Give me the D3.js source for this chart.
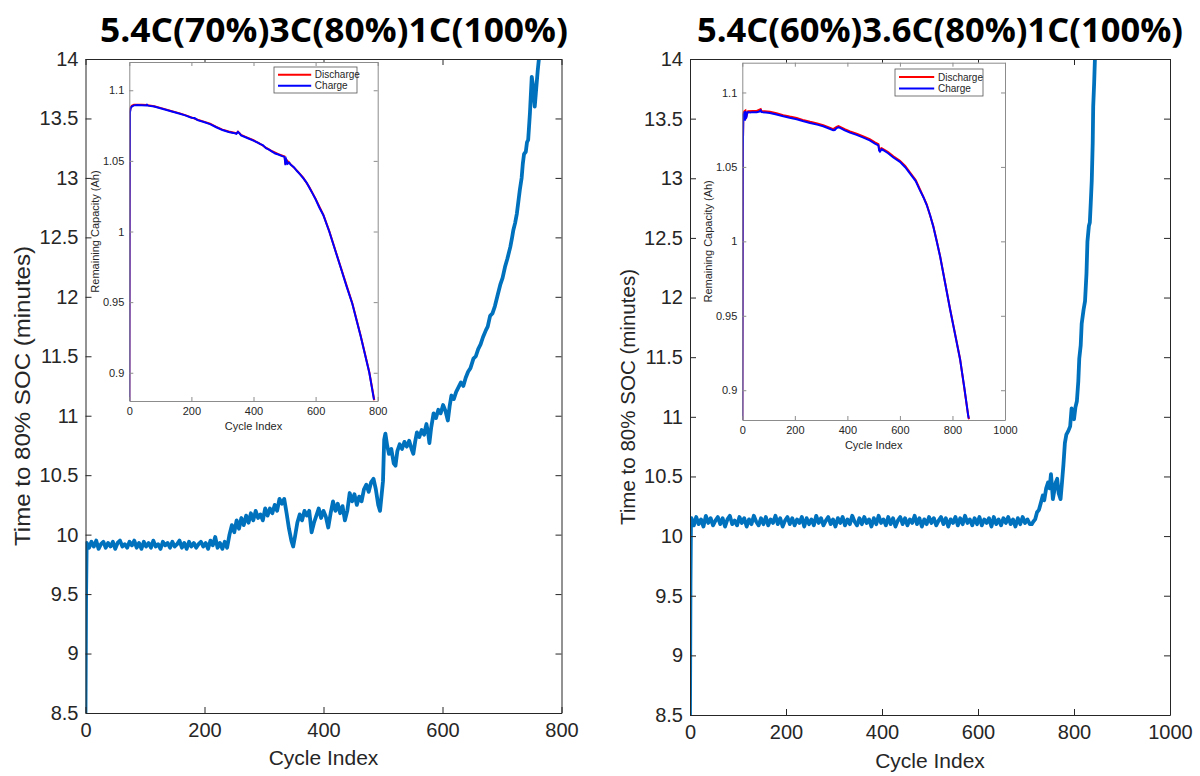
<!DOCTYPE html>
<html><head><meta charset="utf-8">
<script src="https://cdn.jsdelivr.net/npm/d3@7"></script>
<style>
html,body{margin:0;padding:0;background:#fff;}
svg{display:block;font-family:"Liberation Sans",Arial,Helvetica,sans-serif;}
</style></head>
<body>
<svg id="chart" width="1200" height="776"></svg>
<script>
// ---------- DATA ----------
const titles = ["5.4C(70%)3C(80%)1C(100%)", "5.4C(60%)3.6C(80%)1C(100%)"];
const mainYTicks = [8.5, 9, 9.5, 10, 10.5, 11, 11.5, 12, 12.5, 13, 13.5, 14];
const leftXTicks = [0, 200, 400, 600, 800];
const rightXTicks = [0, 200, 400, 600, 800, 1000];
const insetYTicks = [0.9, 0.95, 1, 1.05, 1.1];
const mainXLabel = "Cycle Index";
const mainYLabel = "Time to 80% SOC (minutes)";
const insetYLabel = "Remaining Capacity (Ah)";
const legendNames = ["Discharge", "Charge"];

// Left panel: time to 80% SOC [cycle, minutes]
const leftTime = [[0,8.5],[1,9.5],[2,9.93],[6,9.89],[10,9.94],[14,9.9],[18,9.95],[22,9.88],[26,9.92],[30,9.94],[34,9.89],[38,9.93],[42,9.9],[46,9.94],[50,9.88],[54,9.93],[58,9.95],[62,9.9],[66,9.92],[70,9.89],[74,9.94],[78,9.91],[82,9.95],[86,9.89],[90,9.93],[94,9.88],[98,9.94],[102,9.9],[106,9.93],[110,9.89],[114,9.95],[118,9.9],[122,9.92],[126,9.88],[130,9.94],[134,9.91],[138,9.93],[142,9.89],[146,9.94],[150,9.9],[154,9.92],[158,9.95],[162,9.89],[166,9.93],[170,9.88],[174,9.94],[178,9.9],[182,9.93],[186,9.89],[190,9.92],[194,9.94],[198,9.9],[202,9.93],[206,9.88],[210,9.95],[214,9.91],[218,9.98],[222,9.89],[226,9.93],[230,9.88],[234,9.94],[238,9.89],
[242,10.0],[246,10.08],[250,10.02],[254,10.12],[258,10.05],[262,10.14],[266,10.08],[270,10.16],[274,10.1],[278,10.18],[282,10.12],[286,10.2],[290,10.14],[294,10.17],[298,10.12],[302,10.22],[306,10.16],[310,10.22],[314,10.18],[318,10.25],[322,10.2],[326,10.3],[330,10.26],[334,10.3],[338,10.18],[342,10.05],[346,9.95],[349,9.9],[352,9.98],[356,10.1],[360,10.17],[364,10.12],[368,10.2],[372,10.16],[376,10.2],[380,10.02],[384,10.1],[388,10.16],[392,10.22],[396,10.14],[400,10.2],[404,10.15],[408,10.06],[412,10.18],[416,10.28],[420,10.2],[424,10.26],[428,10.18],[432,10.24],[436,10.12],[440,10.2],[444,10.35],[448,10.28],[452,10.34],[456,10.25],[460,10.32],[464,10.28],[468,10.38],[472,10.42],[476,10.36],[480,10.44],[484,10.47],[488,10.38],[492,10.25],[495,10.2],[498,10.35],[500,10.45],[502,10.8],[504,10.85],[507,10.75],[510,10.68],[514,10.72],[518,10.6],[521,10.58],[524,10.7],[528,10.76],[532,10.72],[536,10.78],[540,10.74],[544,10.79],[548,10.72],[551,10.68],[554,10.78],[557,10.86],[561,10.82],[565,10.88],[569,10.84],[573,10.93],[576,10.85],[578,10.77],[581,10.9],[585,11.02],[589,10.98],[593,11.05],[597,11.02],[601,11.09],[605,11.04],[609,10.96],[612,11.08],[615,11.17],[619,11.14],[623,11.2],[627,11.24],[631,11.28],[635,11.25],[639,11.32],[643,11.37],[647,11.4],[652,11.48],[656,11.5],[660,11.56],[664,11.6],[668,11.66],[673,11.72],[676,11.75],[680,11.84],[684,11.86],[688,11.92],[692,12.0],[697,12.1],[701,12.16],[705,12.25],[709,12.32],[714,12.42],[717,12.5],[719,12.56],[722,12.62],[725,12.7],[728,12.82],[730,12.9],[733,13.0],[735,13.12],[737,13.2],[740,13.22],[742,13.3],[744,13.32],[747,13.55],[750,13.85],[752,13.78],[755,13.6],[757,13.72],[760,13.9],[763,14.05]];

// Right panel: time to 80% SOC [cycle, minutes]
const rightTime = [[0,8.5],[1,9.6],[2,10.1],[3,10.15],[8,10.09],[13,10.16],[18,10.1],[23,10.14],[28,10.08],[33,10.17],[38,10.11],[43,10.15],[48,10.09],[53,10.13],[58,10.16],[63,10.1],[68,10.15],[73,10.08],[78,10.14],[83,10.17],[88,10.1],[93,10.13],[98,10.09],[103,10.16],[108,10.11],[113,10.15],[118,10.08],[123,10.14],[128,10.1],[133,10.17],[138,10.12],[143,10.09],[148,10.15],[153,10.1],[158,10.16],[163,10.09],[168,10.14],[173,10.11],[178,10.17],[183,10.1],[188,10.15],[193,10.08],[198,10.13],[203,10.16],[208,10.1],[213,10.15],[218,10.09],[223,10.14],[228,10.11],[233,10.16],[238,10.08],[243,10.15],[248,10.1],[253,10.14],[258,10.09],[263,10.17],[268,10.11],[273,10.15],[278,10.09],[283,10.13],[288,10.16],[293,10.1],[298,10.14],[303,10.08],[308,10.15],[313,10.11],[318,10.16],[323,10.09],[328,10.14],[333,10.1],[338,10.17],[343,10.12],[348,10.09],[353,10.15],[358,10.1],[363,10.16],[368,10.11],[373,10.14],[378,10.08],[383,10.15],[388,10.1],[393,10.17],[398,10.11],[403,10.14],[408,10.09],[413,10.16],[418,10.1],[423,10.15],[428,10.08],[433,10.13],[438,10.16],[443,10.1],[448,10.15],[453,10.09],[458,10.14],[463,10.11],[468,10.17],[473,10.1],[478,10.15],[483,10.08],[488,10.14],[493,10.1],[498,10.16],[503,10.11],[508,10.15],[513,10.09],[518,10.13],[523,10.16],[528,10.1],[533,10.15],[538,10.08],[543,10.14],[548,10.11],[553,10.16],[558,10.09],[563,10.15],[568,10.1],[573,10.17],[578,10.11],[583,10.14],[588,10.09],[593,10.15],[598,10.1],[603,10.16],[608,10.09],[613,10.14],[618,10.11],[623,10.15],[628,10.08],[633,10.16],[638,10.1],[643,10.14],[648,10.09],[653,10.15],[658,10.11],[663,10.16],[668,10.1],[673,10.14],[678,10.08],[683,10.15],[688,10.1],[693,10.16],[698,10.11],[703,10.14],[708,10.1],
[712,10.1],[715,10.12],[719,10.14],[723,10.2],[727,10.22],[731,10.28],[735,10.34],[738,10.3],[742,10.4],[746,10.45],[749,10.4],[752,10.52],[754,10.42],[756,10.31],[759,10.38],[762,10.45],[765,10.48],[768,10.36],[772,10.31],[775,10.45],[778,10.6],[781,10.78],[784,10.85],[788,10.88],[792,10.92],[795,11.07],[797,11.02],[800,10.98],[803,11.08],[806,11.13],[809,11.3],[811,11.49],[814,11.6],[816,11.78],[820,11.9],[823,11.97],[826,12.2],[828,12.47],[831,12.6],[833,12.63],[835,12.8],[837,12.98],[839,13.3],[840,13.6],[842,13.8],[844,14.05]];

// Left inset: remaining capacity [cycle, Ah]
const leftCharge = [[0,0.88],[1,1.02],[2,1.084],[4,1.087],[8,1.0885],[15,1.0893],[25,1.0895],[40,1.0894],[55,1.0892],[57,1.0897],[60,1.0891],[80,1.0885],[100,1.0872],[120,1.086],[140,1.0848],[160,1.0835],[180,1.0822],[200,1.0805],[210,1.0803],[220,1.0788],[240,1.0775],[260,1.076],[280,1.0738],[300,1.0718],[320,1.0705],[335,1.0698],[345,1.0692],[350,1.0705],[355,1.0695],[360,1.068],[380,1.0662],[400,1.0643],[415,1.0628],[420,1.062],[430,1.0612],[440,1.059],[450,1.058],[460,1.0565],[470,1.0552],[480,1.0545],[490,1.0535],[500,1.0528],[503,1.047],[506,1.0505],[510,1.048],[515,1.0488],[520,1.0472],[530,1.0455],[540,1.0428],[550,1.0405],[560,1.0378],[571,1.0346],[580,1.031],[590,1.027],[600,1.0228],[612,1.017],[625,1.0115],[644,1.0],[657,0.991],[680,0.975],[700,0.961],[718,0.949],[745,0.926],[773,0.9],[788,0.881]];
const leftDischarge = [[0,0.88],[1,1.02],[2,1.0845],[4,1.0875],[8,1.089],[15,1.0897],[25,1.0898],[40,1.0897],[55,1.0895],[60,1.0894],[80,1.0887],[100,1.0875],[120,1.0863],[140,1.085],[160,1.0838],[180,1.0824],[200,1.0808],[220,1.0791],[240,1.0778],[260,1.0763],[280,1.0741],[300,1.0721],[320,1.0708],[345,1.0695],[350,1.0707],[360,1.0683],[380,1.0665],[400,1.0646],[420,1.0623],[440,1.0593],[460,1.0568],[480,1.0548],[500,1.0531],[503,1.0475],[506,1.0508],[520,1.0475],[540,1.0431],[560,1.0381],[580,1.0313],[600,1.0231],[625,1.0118],[644,1.0003],[680,0.9753],[718,0.9493],[745,0.9263],[773,0.9003],[789,0.8805]];

// Right inset: remaining capacity [cycle, Ah]
const rightCharge = [[0,0.88],[2,1.06],[4,1.0857],[6,1.083],[8,1.087],[10,1.081],[12,1.0875],[14,1.0825],[16,1.0835],[18,1.086],[22,1.0868],[30,1.0866],[40,1.0868],[55,1.0868],[65,1.0872],[70,1.088],[73,1.0868],[90,1.0866],[105,1.0862],[130,1.0852],[156,1.084],[180,1.083],[207,1.082],[230,1.0808],[258,1.0795],[285,1.0784],[308,1.0773],[330,1.0758],[346,1.0746],[352,1.0748],[359,1.0761],[366,1.0766],[372,1.0762],[390,1.0745],[410,1.073],[435,1.0715],[461,1.0697],[485,1.0678],[505,1.0657],[518,1.0645],[521,1.061],[524,1.0603],[530,1.0618],[537,1.0612],[555,1.0592],[575,1.0563],[600,1.0534],[620,1.0498],[638,1.0456],[660,1.0405],[676,1.0344],[690,1.0295],[702,1.0244],[715,1.0175],[727,1.0099],[740,1.0],[753,0.9898],[772,0.972],[791,0.9542],[810,0.9375],[829,0.9207],[845,0.902],[860,0.8828],[862,0.881]];
const rightDischarge = [[0,0.88],[2,1.06],[4,1.0862],[8,1.0874],[12,1.0879],[16,1.0842],[22,1.0874],[40,1.0875],[55,1.0876],[70,1.0888],[73,1.0876],[105,1.087],[130,1.086],[156,1.0848],[180,1.0838],[207,1.0828],[230,1.0816],[258,1.0803],[285,1.0792],[308,1.0781],[330,1.0766],[346,1.0754],[359,1.0769],[366,1.0774],[390,1.0753],[410,1.0738],[435,1.0723],[461,1.0705],[485,1.0686],[505,1.0665],[518,1.0653],[521,1.0618],[530,1.0626],[555,1.06],[575,1.0571],[600,1.0542],[620,1.0506],[638,1.0464],[660,1.0412],[676,1.035],[702,1.0249],[727,1.0103],[740,1.0004],[753,0.9901],[791,0.9545],[829,0.921],[860,0.883],[863,0.8805]];

// ---------- LAYOUT ----------
const panels = [
  {title: titles[0], titleX: 334, titleLen: 468, x0: 85.5, x1: 561.5, y0: 59, y1: 713, xDom: [0, 800], xTicks: leftXTicks,
   data: leftTime, yLabelX: 23, yLabelSize: 22, yLabelLen: 300,
   inset: {x0: 129.3, x1: 377.7, y0: 62, y1: 401, xDom: [0, 800], xTicks: leftXTicks, charge: leftCharge, discharge: leftDischarge,
           yLabelX: 95, legend: {x: 274, y: 67, w: 83, h: 26}}},
  {title: titles[1], titleX: 940, titleLen: 486, x0: 690, x1: 1170, y0: 59, y1: 715, xDom: [0, 1000], xTicks: rightXTicks,
   data: rightTime, yLabelX: 628, yLabelSize: 20, yLabelLen: 256,
   inset: {x0: 742.3, x1: 1005, y0: 62.7, y1: 420, xDom: [0, 1000], xTicks: rightXTicks, charge: rightCharge, discharge: rightDischarge,
           yLabelX: 708, legend: {x: 895, y: 69, w: 88, h: 27}}}
];

const svg = d3.select("#chart");
const axisColor = "#262626";
const lineBlue = "#0072BD";

function styleAxis(g, color, fontSize) {
  g.selectAll(".domain").attr("stroke", color).attr("stroke-width", 1);
  g.selectAll(".tick line").attr("stroke", color).attr("stroke-width", 1);
  g.selectAll(".tick text").attr("fill", "#262626").attr("font-size", fontSize)
    .attr("font-family", '"Liberation Sans",Arial,Helvetica,sans-serif');
}

panels.forEach((p, i) => {
  const x = d3.scaleLinear().domain(p.xDom).range([p.x0, p.x1]);
  const y = d3.scaleLinear().domain([8.5, 14]).range([p.y1, p.y0]);

  // title
  svg.append("text").attr("x", p.titleX).attr("y", 42).attr("text-anchor", "middle")
    .attr("font-family", '"Open Sans","Lato",sans-serif').attr("font-weight", 700).attr("font-size", 34)
    .attr("textLength", p.titleLen).attr("lengthAdjust", "spacingAndGlyphs").attr("fill", "#000").text(p.title);

  const clipId = "clip" + i;
  svg.append("clipPath").attr("id", clipId).append("rect")
    .attr("x", p.x0).attr("y", p.y0).attr("width", p.x1 - p.x0).attr("height", p.y1 - p.y0);

  // line
  svg.append("path").datum(p.data).attr("clip-path", `url(#${clipId})`)
    .attr("fill", "none").attr("stroke", lineBlue).attr("stroke-width", 3.8).attr("stroke-linejoin", "round")
    .attr("d", d3.line().x(d => x(d[0])).y(d => y(d[1])));

  // axes (MATLAB style box, inward ticks)
  const gl = svg.append("g").attr("transform", `translate(${p.x0},0)`)
    .call(d3.axisLeft(y).tickValues(mainYTicks).tickFormat(d => String(d)).tickSize(-6).tickSizeOuter(0).tickPadding(7));
  styleAxis(gl, axisColor, 20);
  const gr = svg.append("g").attr("transform", `translate(${p.x1},0)`)
    .call(d3.axisRight(y).tickValues(mainYTicks).tickFormat("").tickSize(-6).tickSizeOuter(0));
  styleAxis(gr, axisColor, 20);
  const gb = svg.append("g").attr("transform", `translate(0,${p.y1})`)
    .call(d3.axisBottom(x).tickValues(p.xTicks).tickFormat(d => String(d)).tickSize(-6).tickSizeOuter(0).tickPadding(10));
  styleAxis(gb, axisColor, 20);
  const gt = svg.append("g").attr("transform", `translate(0,${p.y0})`)
    .call(d3.axisTop(x).tickValues(p.xTicks).tickFormat("").tickSize(-6).tickSizeOuter(0));
  styleAxis(gt, axisColor, 20);

  svg.append("text").attr("x", (p.x0 + p.x1) / 2).attr("y", i === 0 ? 765 : 768).attr("text-anchor", "middle")
    .attr("font-size", 21).attr("fill", "#262626").text(mainXLabel);
  svg.append("text").attr("transform", `translate(${p.yLabelX + 7},${(p.y0 + p.y1) / 2 + 10}) rotate(-90)`)
    .attr("text-anchor", "middle").attr("font-size", p.yLabelSize).attr("fill", "#262626")
    .attr("textLength", p.yLabelLen).attr("lengthAdjust", "spacingAndGlyphs").text(mainYLabel);

  // ----- inset -----
  const q = p.inset;
  const xi = d3.scaleLinear().domain(q.xDom).range([q.x0, q.x1]);
  const yi = d3.scaleLinear().domain([0.88, 1.12]).range([q.y1, q.y0]);
  svg.append("rect").attr("x", q.x0).attr("y", q.y0).attr("width", q.x1 - q.x0).attr("height", q.y1 - q.y0)
    .attr("fill", "#fff");
  const iclip = "iclip" + i;
  svg.append("clipPath").attr("id", iclip).append("rect")
    .attr("x", q.x0).attr("y", q.y0 - 2).attr("width", q.x1 - q.x0 + 2).attr("height", q.y1 - q.y0 + 4);
  const li = d3.line().x(d => xi(d[0])).y(d => yi(d[1]));
  svg.append("path").datum(q.discharge).attr("clip-path", `url(#${iclip})`).attr("fill", "none")
    .attr("stroke", "#ff0000").attr("stroke-width", 2).attr("d", li);
  svg.append("path").datum(q.charge).attr("clip-path", `url(#${iclip})`).attr("fill", "none")
    .attr("stroke", "#0000ff").attr("stroke-width", 2).attr("d", li);

  const inColor = "#8c8c8c";
  const il = svg.append("g").attr("transform", `translate(${q.x0},0)`)
    .call(d3.axisLeft(yi).tickValues(insetYTicks).tickFormat(d => String(d)).tickSize(-4).tickSizeOuter(0).tickPadding(5));
  styleAxis(il, inColor, 11);
  const ir = svg.append("g").attr("transform", `translate(${q.x1},0)`)
    .call(d3.axisRight(yi).tickValues(insetYTicks).tickFormat("").tickSize(-4).tickSizeOuter(0));
  styleAxis(ir, inColor, 11);
  const ib = svg.append("g").attr("transform", `translate(0,${q.y1})`)
    .call(d3.axisBottom(xi).tickValues(q.xTicks).tickFormat(d => String(d)).tickSize(-4).tickSizeOuter(0).tickPadding(6));
  styleAxis(ib, inColor, 11);
  const it = svg.append("g").attr("transform", `translate(0,${q.y0})`)
    .call(d3.axisTop(xi).tickValues(q.xTicks).tickFormat("").tickSize(-4).tickSizeOuter(0));
  styleAxis(it, inColor, 11);

  svg.append("text").attr("x", (q.x0 + q.x1) / 2).attr("y", q.y1 + 29).attr("text-anchor", "middle")
    .attr("font-size", 11).attr("fill", "#262626").text(mainXLabel);
  svg.append("text").attr("transform", `translate(${q.yLabelX + 4},${(q.y0 + q.y1) / 2}) rotate(-90)`)
    .attr("text-anchor", "middle").attr("font-size", 11).attr("fill", "#262626").text(insetYLabel);

  // legend
  const L = q.legend;
  svg.append("rect").attr("x", L.x).attr("y", L.y).attr("width", L.w).attr("height", L.h)
    .attr("fill", "#fff").attr("stroke", "#555").attr("stroke-width", 0.8);
  const legColors = ["#ff0000", "#0000ff"];
  legendNames.forEach((name, k) => {
    const ly = L.y + L.h * (k === 0 ? 0.3 : 0.72);
    svg.append("line").attr("x1", L.x + 4).attr("x2", L.x + 4 + L.w * 0.4).attr("y1", ly).attr("y2", ly)
      .attr("stroke", legColors[k]).attr("stroke-width", 2);
    svg.append("text").attr("x", L.x + 6 + L.w * 0.42).attr("y", ly + 3.5).attr("font-size", 10)
      .attr("fill", "#262626").text(name);
  });
});
</script>
</body></html>
